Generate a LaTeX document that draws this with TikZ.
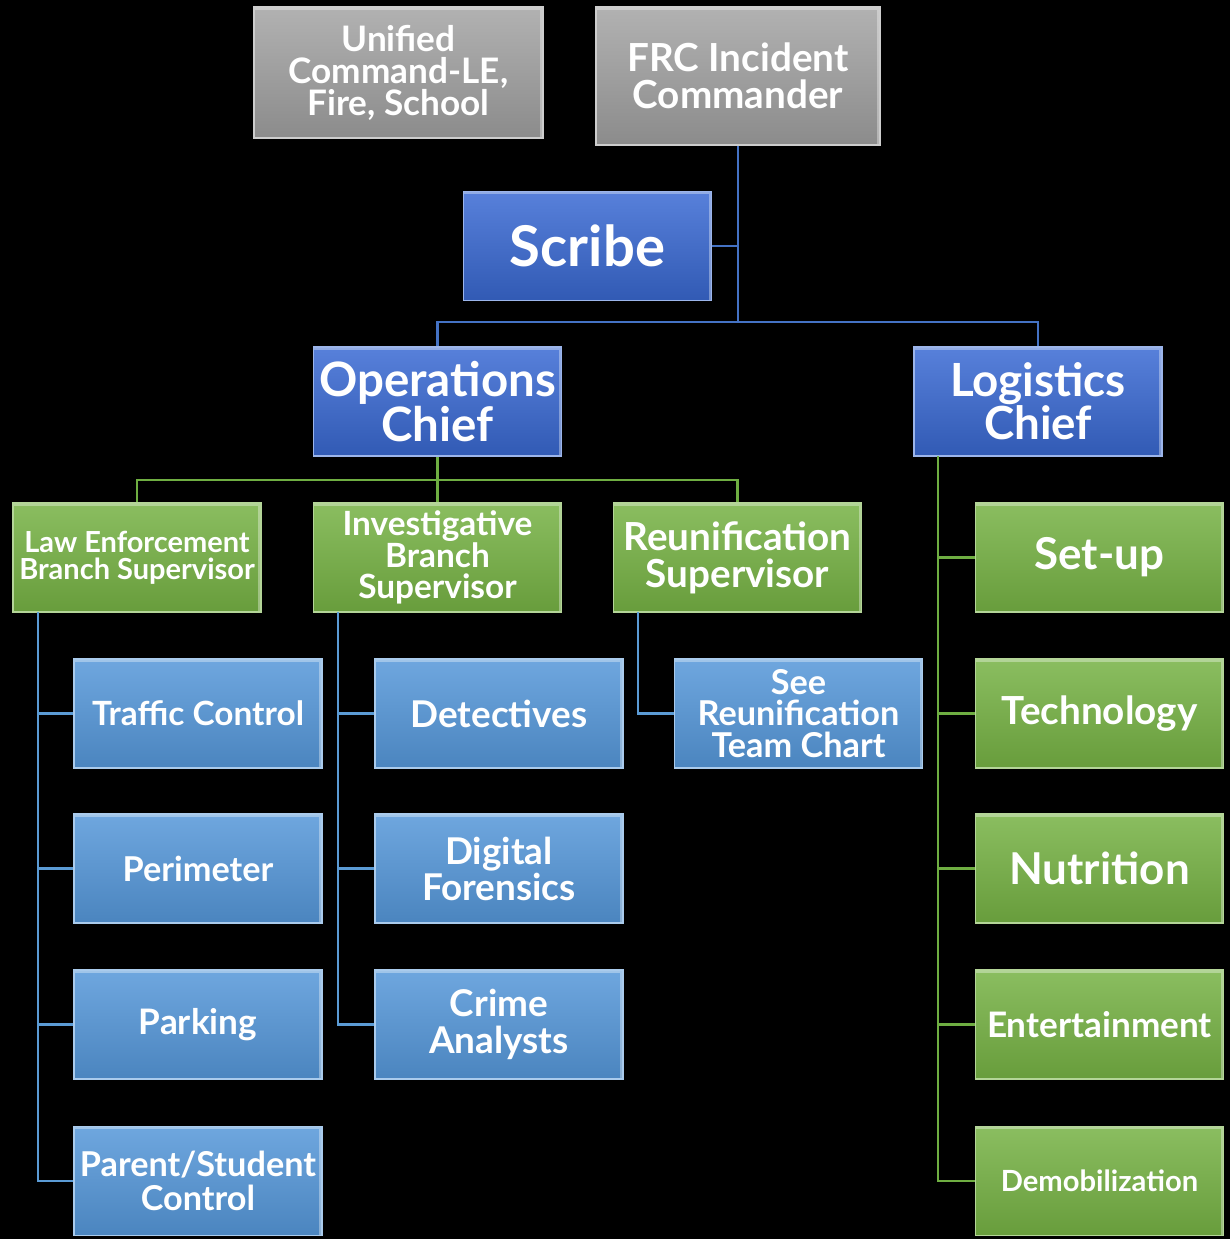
\documentclass[tikz,border=0pt]{standalone}
\usepackage{fontspec}
\setmainfont{Lato}
\usetikzlibrary{positioning}
\definecolor{cmdgray}{HTML}{A4A4A4}
\definecolor{chiefblue}{HTML}{3A6AD4}
\definecolor{teamgreen}{HTML}{76B244}
\definecolor{unitblue}{HTML}{5597D9}
\definecolor{linkblue}{HTML}{4472C4}
\definecolor{linkgreen}{HTML}{6FAE42}
\definecolor{linklight}{HTML}{5B9BD5}
\def\fs#1#2{\fontsize{#1}{#2}\selectfont\bfseries}
\tikzset{
  box/.style={rectangle, minimum width=4.96cm, minimum height=2.18cm, align=center, text=white, inner sep=1pt, line width=1pt,
    path picture={\draw[white, opacity=0.35, line width=3pt] (path picture bounding box.north west) -- (path picture bounding box.north east) -- (path picture bounding box.south east);}},
  graybox/.style={box, top color=cmdgray!85!white, bottom color=cmdgray!85!black, draw=cmdgray!55!white},
  chiefbox/.style={box, top color=chiefblue!85!white, bottom color=chiefblue!85!black, draw=chiefblue!50!white},
  teambox/.style={box, top color=teamgreen!85!white, bottom color=teamgreen!88!black, draw=teamgreen!55!white},
  unitbox/.style={box, top color=unitblue!85!white, bottom color=unitblue!88!black, draw=unitblue!50!white},
  bline/.style={draw=linkblue, line width=1.2pt},
  gline/.style={draw=linkgreen, line width=1.2pt},
  lline/.style={draw=linklight, line width=1.2pt}
}
\begin{document}
\begin{tikzpicture}[x=0.02cm, y=-0.02cm]
			%%%%% START %%%%%
			\fill[black] (0,0) rectangle (1230,1239);
			\useasboundingbox (0,0) rectangle (1230,1239);
			
			% command level
			\node[graybox, minimum width=5.78cm, minimum height=2.62cm, font=\fs{20}{18.2}] (unified) at (398.5,72.5) {Unified\\Command-LE,\\Fire, School};
			\node[graybox, minimum width=5.68cm, minimum height=2.76cm, font=\fs{22}{21}] (frc) at (738,76) {FRC Incident\\Commander};
			\node[chiefbox, font=\fs{32}{32}] (scribe) at (587.5,246) {Scribe};
			
			% chiefs
			\node[chiefbox, font=\fs{27}{24.5}] (ops) at (437.5,401.5) {Operations\\Chief};
			\node[chiefbox, font=\fs{26}{24.5}] (log) at (1038,401.5) {Logistics\\Chief};
			
			% branch supervisors
			\node[teambox, font=\fs{16.5}{15.4}] (le) at (137,557.5) {Law Enforcement\\Branch Supervisor};
			\node[teambox, font=\fs{19}{18}] (inv) at (437.5,557.5) {Investigative\\Branch\\Supervisor};
			\node[teambox, font=\fs{22}{21}] (reu) at (737.5,557.5) {Reunification\\Supervisor};
			
			% law enforcement units
			\node[unitbox, font=\fs{19}{19}] (traffic) at (198,713.5) {Traffic Control};
			\node[unitbox, font=\fs{19.5}{19}] (perim) at (198,868.5) {Perimeter};
			\node[unitbox, font=\fs{20}{19}] (park) at (198,1024.5) {Parking};
			\node[unitbox, font=\fs{19.5}{19}] (parent) at (198,1181) {Parent/Student\\Control};
			
			% investigative units
			\node[unitbox, font=\fs{21}{20.5}] (detect) at (499,713.5) {Detectives};
			\node[unitbox, font=\fs{21}{20.5}] (digital) at (499,868.5) {Digital\\Forensics};
			\node[unitbox, font=\fs{21}{21}] (crime) at (499,1024.5) {Crime\\Analysts};
			
			\node[unitbox, font=\fs{19.5}{18}] (see) at (798.5,713.5) {See\\Reunification\\Team Chart};
			
			% logistics units
			\node[teambox, font=\fs{25}{25}] (setup) at (1099.5,557.5) {Set-up};
			\node[teambox, font=\fs{22}{22}] (tech) at (1099.5,713.5) {Technology};
			\node[teambox, font=\fs{25}{25}] (nutri) at (1099.5,868.5) {Nutrition};
			\node[teambox, font=\fs{20}{20}] (enter) at (1099.5,1024.5) {Entertainment};
			\node[teambox, font=\fs{16.6}{16}] (demob) at (1099.5,1181) {Demobilization};
			
			% connectors
			\coordinate (cmdbus) at (738,322);
			\draw[bline] (frc.south) -- (cmdbus);
			\draw[bline] (scribe.east) -- (scribe.east -| frc.south);
			\draw[bline] (ops.north) |- (cmdbus) -| (log.north);
			
			\coordinate (opsbus) at (437.5,480);
			\draw[gline] (ops.south) -- (inv.north);
			\draw[gline] (le.north) |- (opsbus) -| (reu.north);
			
			\coordinate (lestem) at (38,612);
			\foreach \u in {traffic,perim,park,parent}
				\draw[lline] (lestem) |- (\u.west);
			\coordinate (invstem) at (338,612);
			\foreach \u in {detect,digital,crime}
				\draw[lline] (invstem) |- (\u.west);
			\coordinate (reustem) at (638,612);
			\draw[lline] (reustem) |- (see.west);
			
			\coordinate (logstem) at (938,456);
			\foreach \u in {setup,tech,nutri,enter,demob}
				\draw[gline] (logstem) |- (\u.west);
			%%%%% END %%%%%
\end{tikzpicture}
\end{document}
